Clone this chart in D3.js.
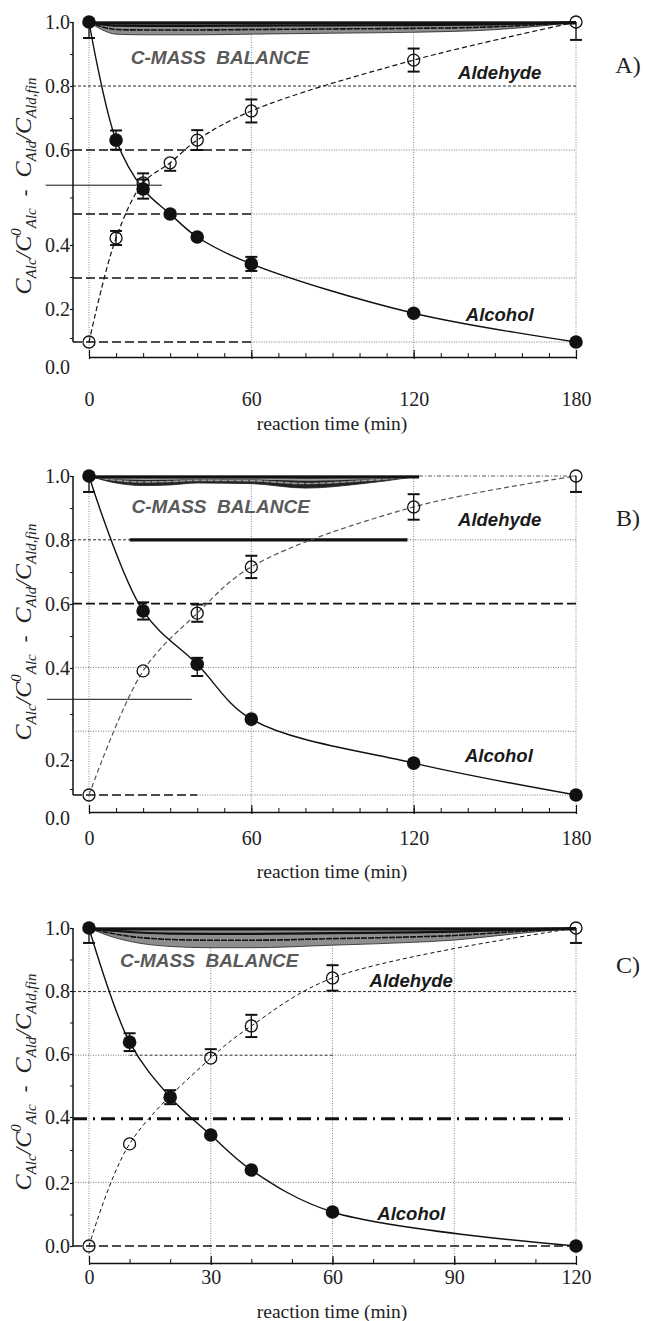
<!DOCTYPE html>
<html><head><meta charset="utf-8">
<script src="https://cdn.jsdelivr.net/npm/d3@7"></script>
<style>
body{margin:0;background:#fff}
svg{display:block}
</style></head><body>
<svg id="chart" width="646" height="1321"></svg>
<script>
// ================= DATA =================
const yTicks = [0.0, 0.2, 0.4, 0.6, 0.8, 1.0];
const xTicksAB = [0, 60, 120, 180];
const xTicksC = [0, 30, 60, 90, 120];

// Panel A
const timesA = [0, 10, 20, 30, 40, 60, 120, 180];
const alcoholA = [1.0, 0.631, 0.478, 0.40, 0.328, 0.244, 0.09, 0.0];
const aldehydeA = [0.0, 0.325, 0.497, 0.56, 0.631, 0.722, 0.881, 1.0];
const alcoholErrA = [[0.05, 0], [0.03, 0.03], [0.03, 0.03], null, null, [0.022, 0.022], null, null];
const aldehydeErrA = [null, [0.022, 0.022], [0.03, 0.03], [0.025, 0.0], [0.031, 0.031], [0.036, 0.036], [0.036, 0.036], [0.056, 0]];
const mbTimesA = [0, 5, 10, 20, 40, 60, 90, 120, 150, 170, 180];
const mbLowerA = [1.0, 0.975, 0.962, 0.96, 0.96, 0.962, 0.965, 0.968, 0.976, 0.99, 1.0];

// Panel B
const timesB = [0, 20, 40, 60, 120, 180];
const alcoholB = [1.0, 0.577, 0.41, 0.238, 0.10, 0.0];
const aldehydeB = [0.0, 0.389, 0.57, 0.715, 0.903, 1.0];
const alcoholErrB = [[0.05, 0], [0.027, 0.027], [0.037, 0.02], null, null, null];
const aldehydeErrB = [null, null, [0.027, 0.027], [0.035, 0.035], [0.04, 0.04], [0.05, 0]];
const mbTimesB = [0, 10, 20, 30, 40, 60, 80, 100, 110, 122];
const mbLowerB = [1.0, 0.978, 0.97, 0.972, 0.978, 0.976, 0.962, 0.975, 0.985, 1.0];

// Panel C
const timesC = [0, 10, 20, 30, 40, 60, 120];
const alcoholC = [1.0, 0.641, 0.468, 0.349, 0.239, 0.107, 0.0];
const aldehydeC = [0.0, 0.321, null, 0.591, 0.692, 0.843, 1.0];
const alcoholErrC = [[0.047, 0], [0.028, 0.028], [0.022, 0.022], null, null, null, null];
const aldehydeErrC = [null, null, null, [0.0, 0.028], [0.035, 0.035], [0.04, 0.04], [0.047, 0]];
const mbTimesC = [0, 5, 10, 20, 30, 40, 60, 80, 90, 100, 110, 120];
const mbLowerC = [1.0, 0.975, 0.958, 0.942, 0.938, 0.938, 0.946, 0.955, 0.962, 0.975, 0.988, 1.0];

// ================= LAYOUT / STYLE =================
const X0 = 89, X1 = 576, AXIS_X = 73;
const STYLES = {
  thinDash:  {w: 0.9, dash: "3,2", c: "#111"},
  heavyDash: {w: 1.6, dash: "9,4", c: "#111"},
  heavyLong: {w: 3.0, dash: "14,6,2,6", c: "#111"},
  dot:       {w: 0.8, dash: "1,1.5", c: "#555"},
  dashdot:   {w: 0.8, dash: "4,2,1,2", c: "#333"},
  solidThick:{w: 3.2, dash: null, c: "#111"},
  thin:      {w: 1.0, dash: null, c: "#111"}
};

const panels = [
  {
    times: timesA, alc: alcoholA, ald: aldehydeA, alcErr: alcoholErrA, aldErr: aldehydeErrA,
    mbT: mbTimesA, mbL: mbLowerA, tmax: 180, xTicks: xTicksAB,
    top: 22, bottom: 342, axisY: 357, tickLabelY: 399, titleY: 424,
    labelPos: [367, 309, 245, 150, 86, 22], letter: "A)", letterY: 65, ylabelY: 186,
    aldColor: "#111", aldDash: "5,3", aldW: 1.2, bandFill: "#8e8e8e", stripeColor: "#111",
    lines: [
      {v: 0.8, t0: null, t1: 180, s: "thinDash"},
      {v: 0.6, t0: null, t1: 60, s: "heavyDash"}, {v: 0.6, t0: 60, t1: 180, s: "dot"},
      {v: 0.4, t0: null, t1: 60, s: "heavyDash"}, {v: 0.4, t0: 60, t1: 180, s: "dot"},
      {v: 0.2, t0: null, t1: 60, s: "heavyDash"}, {v: 0.2, t0: 60, t1: 180, s: "dot"},
      {v: 0.0, t0: null, t1: 60, s: "heavyDash"}, {v: 0.0, t0: 60, t1: 180, s: "dot"},
      {v: 0.49, t0: -16, t1: 27, s: "thin"}
    ],
    notes: [
      {text: "C-MASS  BALANCE", t: 48.4, v: 0.89, kind: "mb"},
      {text: "Aldehyde", t: 151.8, v: 0.844, kind: "lbl"},
      {text: "Alcohol", t: 151.8, v: 0.0875, kind: "lbl"}
    ]
  },
  {
    times: timesB, alc: alcoholB, ald: aldehydeB, alcErr: alcoholErrB, aldErr: aldehydeErrB,
    mbT: mbTimesB, mbL: mbLowerB, tmax: 180, xTicks: xTicksAB,
    top: 476, bottom: 795, axisY: 812, tickLabelY: 838, titleY: 872,
    labelPos: [818, 760, 668, 604, 540, 476], letter: "B)", letterY: 518, ylabelY: 632,
    aldColor: "#555", aldDash: "5,3", aldW: 1.2, bandFill: "#222", stripeColor: "#999",
    lines: [
      {v: 1.0, t0: 122, t1: 180, s: "dashdot"},
      {v: 0.8, t0: null, t1: 15, s: "thinDash"}, {v: 0.8, t0: 15, t1: 117.7, s: "solidThick"}, {v: 0.8, t0: 117.7, t1: 180, s: "dot"},
      {v: 0.6, t0: null, t1: 180, s: "heavyDash"},
      {v: 0.4, t0: null, t1: 180, s: "dot"},
      {v: 0.30, t0: -15.5, t1: 38, s: "thin"},
      {v: 0.2, t0: null, t1: 180, s: "dot"},
      {v: 0.0, t0: null, t1: 40, s: "heavyDash"}, {v: 0.0, t0: 40, t1: 180, s: "dot"}
    ],
    notes: [
      {text: "C-MASS  BALANCE", t: 48.7, v: 0.906, kind: "mb"},
      {text: "Aldehyde", t: 151.8, v: 0.865, kind: "lbl"},
      {text: "Alcohol", t: 151.5, v: 0.125, kind: "lbl"}
    ]
  },
  {
    times: timesC, alc: alcoholC, ald: aldehydeC, alcErr: alcoholErrC, aldErr: aldehydeErrC,
    mbT: mbTimesC, mbL: mbLowerC, tmax: 120, xTicks: xTicksC,
    top: 928, bottom: 1246, axisY: 1263, tickLabelY: 1277, titleY: 1312,
    labelPos: [1246, 1183, 1117, 1054, 991, 928], letter: "C)", letterY: 965, ylabelY: 1082,
    aldColor: "#111", aldDash: "4,3", aldW: 1.0, bandFill: "#8e8e8e", stripeColor: "#111",
    lines: [
      {v: 0.8, t0: null, t1: 120, s: "thinDash"},
      {v: 0.6, t0: null, t1: 10, s: "dot"}, {v: 0.6, t0: 10, t1: 60, s: "thinDash"}, {v: 0.6, t0: 60, t1: 120, s: "dot"},
      {v: 0.4, t0: null, t1: 118.5, s: "heavyLong"},
      {v: 0.2, t0: null, t1: 120, s: "dot"},
      {v: 0.0, t0: null, t1: 120, s: "heavyDash"}
    ],
    notes: [
      {text: "C-MASS  BALANCE", t: 29.6, v: 0.899, kind: "mb"},
      {text: "Aldehyde", t: 79.4, v: 0.836, kind: "lbl"},
      {text: "Alcohol", t: 79.4, v: 0.104, kind: "lbl"}
    ]
  }
];

// ================= DRAW =================
const svg = d3.select("#chart");
svg.append("rect").attr("width", 646).attr("height", 1321).attr("fill", "#fff");

panels.forEach(p => {
  const g = svg.append("g");
  const x = d3.scaleLinear().domain([0, p.tmax]).range([X0, X1]);
  const y = d3.scaleLinear().domain([0, 1]).range([p.bottom, p.top]);
  const yLab = d3.scaleLinear().domain(yTicks).range(p.labelPos);
  const xPos = t => (t === null ? AXIS_X : x(t));

  // vertical dotted grid
  g.selectAll(".vg").data(p.xTicks).join("line")
    .attr("x1", d => x(d)).attr("x2", d => x(d))
    .attr("y1", y(1)).attr("y2", p.axisY)
    .attr("stroke", "#666").attr("stroke-width", 0.8).attr("stroke-dasharray", "1,1.5");

  // horizontal lines
  g.selectAll(".hl").data(p.lines).join("line")
    .attr("x1", d => xPos(d.t0)).attr("x2", d => xPos(d.t1))
    .attr("y1", d => y(d.v)).attr("y2", d => y(d.v))
    .attr("stroke", d => STYLES[d.s].c)
    .attr("stroke-width", d => STYLES[d.s].w)
    .attr("stroke-dasharray", d => STYLES[d.s].dash);

  // C-mass balance band
  const mb = p.mbT.map((t, i) => ({t, v: p.mbL[i]}));
  const area = d3.area().x(d => x(d.t)).y0(y(1)).y1(d => y(d.v)).curve(d3.curveMonotoneX);
  g.append("path").datum(mb).attr("d", area)
    .attr("fill", p.bandFill).attr("stroke", "#222").attr("stroke-width", 0.8);
  [0.3, 0.62].forEach(f => {
    g.append("path").datum(mb)
      .attr("d", d3.line().x(d => x(d.t)).y(d => y(1 - f * (1 - d.v))).curve(d3.curveMonotoneX))
      .attr("fill", "none").attr("stroke", p.stripeColor).attr("stroke-width", f < 0.5 ? 2.2 : 1.6)
      .attr("stroke-dasharray", f < 0.5 ? null : "6,1");
  });
  g.append("line").attr("x1", x(mb[0].t)).attr("x2", x(mb[mb.length - 1].t))
    .attr("y1", y(1) + 1).attr("y2", y(1) + 1).attr("stroke", "#111").attr("stroke-width", 2.8);

  // curves
  const alcPts = p.times.map((t, i) => ({t, v: p.alc[i], e: p.alcErr[i]}));
  const aldPts = p.times.map((t, i) => ({t, v: p.ald[i], e: p.aldErr[i]})).filter(d => d.v !== null);
  const curve = d3.line().x(d => x(d.t)).y(d => y(d.v)).curve(d3.curveCatmullRom.alpha(0.5));
  g.append("path").datum(aldPts).attr("d", curve).attr("fill", "none")
    .attr("stroke", p.aldColor).attr("stroke-width", p.aldW).attr("stroke-dasharray", p.aldDash);
  g.append("path").datum(alcPts).attr("d", curve).attr("fill", "none")
    .attr("stroke", "#111").attr("stroke-width", 1.4);

  // error bars
  const errs = alcPts.concat(aldPts).filter(d => d.e);
  errs.forEach(d => {
    const lo = d.v - d.e[0], hi = d.v + d.e[1];
    g.append("line").attr("x1", x(d.t)).attr("x2", x(d.t)).attr("y1", y(lo)).attr("y2", y(hi))
      .attr("stroke", "#111").attr("stroke-width", 1.3);
    [[d.e[0], lo], [d.e[1], hi]].forEach(([e, vv]) => {
      if (e > 0) g.append("line").attr("x1", x(d.t) - 6).attr("x2", x(d.t) + 6)
        .attr("y1", y(vv)).attr("y2", y(vv)).attr("stroke", "#111").attr("stroke-width", 2);
    });
  });

  // markers
  g.selectAll(".ald").data(aldPts).join("circle")
    .attr("cx", d => x(d.t)).attr("cy", d => y(d.v)).attr("r", 6)
    .attr("fill", "none").attr("stroke", "#111").attr("stroke-width", 1.3);
  g.selectAll(".alc").data(alcPts).join("circle")
    .attr("cx", d => x(d.t)).attr("cy", d => y(d.v)).attr("r", 6.8)
    .attr("fill", "#111");

  // y axis
  g.append("line").attr("x1", AXIS_X).attr("x2", AXIS_X).attr("y1", y(1)).attr("y2", y(0))
    .attr("stroke", "#111").attr("stroke-width", 1.5);
  const ya = g.append("g").attr("transform", `translate(${AXIS_X},0)`)
    .call(d3.axisLeft(yLab).tickValues(yTicks).tickSize(3).tickPadding(0).tickFormat(d3.format(".1f")));
  ya.select(".domain").remove();
  ya.selectAll("line").attr("stroke", "#111").attr("stroke-width", 1.2)
    .attr("display", d => yLab(d) > y(0) + 2 ? "none" : null);
  ya.selectAll("text").attr("font-family", "Liberation Serif").attr("font-size", 20).attr("fill", "#222");
  const ym = g.append("g").attr("transform", `translate(${AXIS_X},0)`)
    .call(d3.axisLeft(yLab).tickValues(d3.pairs(yTicks).map(([a, b]) => (a + b) / 2)).tickSize(3).tickFormat(""));
  ym.select(".domain").remove();
  ym.selectAll("line").attr("stroke", "#111").attr("stroke-width", 1);

  // x axis
  const minors = d3.range(0, p.tmax + 0.1, 10);
  const xa = g.append("g").attr("transform", `translate(0,${p.axisY})`)
    .call(d3.axisTop(x).tickValues(minors).tickSize(4).tickSizeOuter(0).tickFormat(""));
  xa.select(".domain").attr("stroke", "#111").attr("stroke-width", 1.6);
  xa.selectAll("line").attr("stroke", "#111").attr("stroke-width", 1);
  const xm = g.append("g").attr("transform", `translate(0,${p.axisY + 2})`)
    .call(d3.axisTop(x).tickValues(p.xTicks).tickSize(9).tickFormat(""));
  xm.select(".domain").remove();
  xm.selectAll("line").attr("stroke", "#111").attr("stroke-width", 1.2);
  const xl = g.append("g").attr("transform", `translate(0,${p.tickLabelY - 7})`)
    .call(d3.axisBottom(x).tickValues(p.xTicks).tickSize(0).tickPadding(0));
  xl.select(".domain").remove();
  xl.selectAll("text").attr("font-family", "Liberation Serif").attr("font-size", 20).attr("fill", "#222");

  // x title
  g.append("text").attr("x", 332).attr("y", p.titleY + 6).attr("text-anchor", "middle")
    .attr("font-family", "Liberation Serif").attr("font-size", 19.5).attr("fill", "#222")
    .text("reaction time (min)");

  // y title
  const yt = g.append("text").attr("transform", `translate(31,${p.ylabelY}) rotate(-90)`)
    .attr("text-anchor", "middle").attr("font-family", "Liberation Serif").attr("fill", "#222")
    .attr("font-style", "italic");
  const parts = [
    ["C", 0, 24], ["Alc", 5, 15], ["/", 0, 24], ["C", 0, 24], ["0", -10, 15], ["Alc", 5, 15],
    ["-", 0, 20, 12], ["C", 0, 24, 12], ["Ald", 5, 15], ["/", 0, 24], ["C", 0, 24], ["Ald,fin", 5, 15]
  ];
  let cur = 0;
  parts.forEach(([s, off, fs, dx]) => {
    const ts = yt.append("tspan").attr("font-size", fs).attr("dy", off - cur).text(s);
    if (dx) ts.attr("dx", dx);
    if (s === "-") ts.attr("font-style", "normal");
    cur = off;
  });

  // annotations
  p.notes.forEach(n => {
    g.append("text").attr("x", x(n.t)).attr("y", y(n.v)).attr("dy", "0.36em")
      .attr("text-anchor", "middle").attr("font-family", "Liberation Sans")
      .attr("font-weight", "bold").attr("font-style", "italic")
      .attr("font-size", n.kind === "mb" ? 19 : 18.5)
      .attr("fill", n.kind === "mb" ? "#5a5a5a" : "#1a1a1a")
      .attr("xml:space", "preserve")
      .text(n.text);
  });

  // panel letter
  g.append("text").attr("x", 628).attr("y", p.letterY + 8).attr("text-anchor", "middle")
    .attr("font-family", "Liberation Serif").attr("font-size", 24).attr("fill", "#222")
    .text(p.letter);
});
</script>
</body></html>
